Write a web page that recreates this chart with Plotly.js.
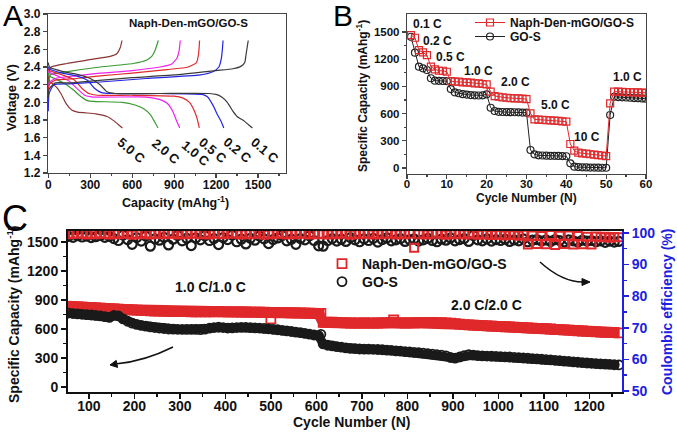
<!DOCTYPE html>
<html><head><meta charset="utf-8">
<script src="https://cdn.plot.ly/plotly-3.0.1.min.js"></script>
<style>html,body{margin:0;padding:0;background:#fff}#chart{width:677px;height:432px}</style>
</head><body><div id="chart"></div>
<script>
// ---------- Panel A : voltage profiles ----------
const rateLabels = ['0.1 C','0.2 C','0.5 C','1.0 C','2.0 C','5.0 C'];
const rateColors = ['#3a3a3a','#2424e6','#e0282b','#f020f0','#3a9a32','#8a3434'];
const dis01Cap = [0,8,100,200,300,370,420,480,800,1150,1200,1240,1280,1320,1350,1400,1430,1460];
const dis01V   = [2.45,2.40,2.35,2.32,2.27,2.20,2.12,2.10,2.10,2.10,2.09,2.06,2.00,1.90,1.84,1.79,1.75,1.71];
const dis02Cap = [0,6,100,200,280,330,380,450,800,1100,1140,1180,1210,1240,1255];
const dis02V   = [2.40,2.38,2.33,2.30,2.25,2.16,2.11,2.10,2.10,2.09,2.06,1.96,1.86,1.77,1.71];
const dis05Cap = [0,6,100,180,240,290,350,600,900,960,1010,1040,1062,1080];
const dis05V   = [2.38,2.36,2.31,2.26,2.16,2.10,2.08,2.08,2.07,2.05,2.00,1.92,1.83,1.71];
const dis10Cap = [0,6,80,150,210,260,320,700,800,850,890,915,940];
const dis10V   = [2.36,2.34,2.29,2.24,2.15,2.08,2.06,2.06,2.03,1.99,1.90,1.80,1.71];
const dis20Cap = [0,6,60,130,180,230,280,320,530,620,680,730,760,785];
const dis20V   = [2.33,2.30,2.26,2.20,2.14,2.07,2.02,2.01,2.00,1.97,1.93,1.86,1.78,1.71];
const dis50Cap = [0,6,30,60,90,130,170,210,340,420,470,500,530];
const dis50V   = [2.28,2.25,2.21,2.17,2.10,1.98,1.91,1.89,1.87,1.84,1.79,1.75,1.71];
const ch01Cap = [0,6,50,150,300,600,900,1200,1320,1380,1405,1415,1430];
const ch01V   = [2.05,2.15,2.22,2.22,2.24,2.28,2.31,2.36,2.38,2.41,2.45,2.55,2.70];
const ch02Cap = [0,6,40,150,370,700,1086,1180,1220,1238,1245,1250];
const ch02V   = [1.90,2.10,2.20,2.21,2.23,2.27,2.31,2.35,2.40,2.50,2.60,2.70];
const ch05Cap = [0,6,50,200,371,600,848,1000,1060,1075,1082];
const ch05V   = [2.00,2.20,2.25,2.27,2.30,2.33,2.37,2.40,2.45,2.55,2.70];
const ch10Cap = [0,6,50,200,371,600,800,880,920,935,944];
const ch10V   = [2.05,2.22,2.27,2.30,2.33,2.36,2.40,2.43,2.50,2.58,2.70];
const ch20Cap = [0,6,14,150,371,607,705,740,764,787];
const ch20V   = [2.10,2.25,2.31,2.35,2.40,2.44,2.48,2.52,2.59,2.70];
const ch50Cap = [0,6,20,133,250,321,443,490,515,527];
const ch50V   = [2.15,2.35,2.40,2.44,2.47,2.49,2.52,2.55,2.62,2.70];

// ---------- Panel B : rate capability (cycles 1..60) ----------
const seriesNames = ['Naph-Den-mGO/GO-S','GO-S'];
const naphRate = [1467,1437,1301,1276,1246,1118,1089,1073,1073,1062,
  960,952,952,945,945,941,934,934,927,923,
  842,794,786,780,775,772,769,769,765,761,
  603,537,534,531,528,525,522,519,515,511,
  265,191,169,162,158,152,148,143,138,132,
  714,842,842,840,838,836,835,834,832,830];
const gosRate = [1448,1272,1118,1100,1081,990,963,962,960,958,
  871,835,825,815,810,805,802,800,802,813,
  665,629,620,618,617,616,615,614,612,610,
  199,151,140,138,136,135,134,133,132,130,
  52,15,10,8,6,5,5,4,3,3,
  585,786,783,780,778,775,772,770,768,765];
const rateStepLabels = ['0.1 C','0.2 C','0.5 C','1.0 C','2.0 C','5.0 C','10 C','1.0 C'];

// ---------- Panel C : long cycling (every 10th cycle, 55..1265) ----------
const naphCap = [835,830,828,825,822,820,818,815,812,810,
  808,805,802,800,798,795,793,790,788,786,
  785,783,782,781,780,780,779,778,778,777,
  777,778,778,779,778,778,777,777,776,776,
  775,775,774,773,772,771,770,770,769,768,
  767,766,765,764,762,760,
  668,672,670,668,665,663,662,660,660,662,
  660,661,662,663,665,668,665,663,662,663,
  664,665,666,666,667,666,665,664,660,655,
  650,645,642,640,637,634,632,630,627,625,
  623,621,619,617,615,612,610,607,605,603,
  600,597,594,591,588,585,582,579,576,573,
  570,568,566,564,562,560];
const gosCap = [765,760,757,752,748,745,740,735,728,720,
  740,735,705,680,660,648,638,630,622,615,
  610,605,600,598,597,596,595,596,595,594,
  598,608,615,618,615,610,612,615,617,616,
  614,612,610,606,602,597,592,586,580,574,
  568,562,555,547,538,530,
  445,432,425,418,412,405,400,397,393,392,
  392,390,388,385,382,378,374,370,366,362,
  358,354,350,345,340,335,330,322,305,298,
  310,325,335,330,325,322,320,318,316,314,
  312,310,307,304,300,297,294,290,287,283,
  280,276,272,268,264,260,256,252,248,245,
  242,239,236,233,230,228];
const naphCE = [99.6,99.8,99.7,99.9,99.5,99.8,99.6,99.9,99.7,99.5,
  99.8,99.6,99.9,99.7,99.4,99.8,99.6,99.9,99.5,99.7,
  99.8,99.6,99.9,99.7,99.5,99.8,99.6,99.9,99.7,99.6,
  99.8,99.5,99.9,99.7,99.6,99.8,99.7,99.9,99.5,99.8,
  99.6,99.7,99.9,99.4,99.8,99.6,99.9,99.7,99.5,99.8,
  99.6,99.9,99.7,99.5,99.8,99.6,
  99.7,99.5,99.8,99.6,99.9,99.7,99.4,99.8,99.6,99.7,
  99.9,99.5,99.8,99.6,99.7,99.9,99.5,99.8,99.6,99.7,
  95.3,99.6,99.8,99.5,99.7,99.9,99.6,99.4,99.8,99.6,
  99.7,99.5,99.9,99.6,99.4,99.7,99.5,99.3,99.6,99.4,
  99.2,99.5,99.3,99.1,99.4,96.3,99.2,96.5,99.0,96.4,
  99.3,96.2,99.1,96.5,99.2,96.3,99.0,96.4,98.8,96.3,
  98.9,98.6,98.8,98.5,98.7,98.6];
const gosCE = [98.9,98.6,99.1,98.7,99.0,98.5,98.8,99.2,98.6,98.9,
  98.2,97.6,99.3,97.9,96.4,98.5,97.4,99.0,95.8,98.1,
  97.7,98.6,96.2,98.0,99.2,97.5,98.3,96.0,98.4,97.8,
  99.1,97.6,98.2,96.3,98.5,97.9,99.3,97.2,98.0,96.5,
  98.3,97.7,99.0,98.1,96.6,97.9,98.4,99.2,97.5,98.0,
  96.4,98.2,97.8,99.1,97.6,95.9,
  95.8,97.6,98.2,97.4,98.0,97.3,98.5,97.8,97.2,98.1,
  97.6,98.3,97.1,97.9,98.4,97.5,97.8,98.2,97.3,97.9,
  98.1,97.4,97.8,98.3,97.6,97.2,98.0,97.7,98.4,97.5,
  97.9,98.2,97.3,99.2,97.8,97.5,98.1,97.4,97.9,97.6,
  98.0,97.3,97.8,97.5,98.1,97.2,97.7,97.9,97.4,97.8,
  97.3,97.9,97.6,97.2,97.8,97.5,97.1,97.7,97.4,97.6,
  97.2,97.5,97.0,97.4,97.1,97.3];
const naphOutCycle = [500,610,770];
const naphOutCap   = [705,762,693];
const gosOutCycle  = [610];
const gosOutCap    = [545];
const phaseLabels = ['1.0 C/1.0 C','2.0 C/2.0 C'];

// ---------- build ----------
const W = 677, H = 432;
const px = v => v / W, py = v => 1 - v / H;
const RED = '#e0282b', BLK = '#1a1a1a', BLUE = '#2020e0';
const FONT = 'Liberation Sans, Arial, sans-serif';

const traces = [];
const disCaps = [dis01Cap,dis02Cap,dis05Cap,dis10Cap,dis20Cap,dis50Cap];
const disVs = [dis01V,dis02V,dis05V,dis10V,dis20V,dis50V];
const chCaps = [ch01Cap,ch02Cap,ch05Cap,ch10Cap,ch20Cap,ch50Cap];
const chVs = [ch01V,ch02V,ch05V,ch10V,ch20V,ch50V];
for (let i = 5; i >= 0; i--) {
  traces.push({x: disCaps[i], y: disVs[i], xaxis:'x', yaxis:'y', mode:'lines', showlegend:false,
    line:{color: rateColors[i], width:1.2, shape:'spline', smoothing:0.5}, hoverinfo:'skip'});
  traces.push({x: chCaps[i], y: chVs[i], xaxis:'x', yaxis:'y', mode:'lines', showlegend:false,
    line:{color: rateColors[i], width:1.2, shape:'spline', smoothing:0.5}, hoverinfo:'skip'});
}
// Panel B
traces.push({y: gosRate, x0:1, dx:1, xaxis:'x2', yaxis:'y2', mode:'lines+markers', name: seriesNames[1],
  legend:'legend3', line:{color:'#222', width:1},
  marker:{symbol:'circle-open', size:7, color:'#222', line:{width:1.2}}});
traces.push({y: naphRate, x0:1, dx:1, xaxis:'x2', yaxis:'y2', mode:'lines+markers', name: seriesNames[0],
  legend:'legend', line:{color:RED, width:1},
  marker:{symbol:'square-open', size:7, color:RED, line:{width:1.2}}});
// Panel C capacity bands
traces.push({y: naphCap, x0:55, dx:10, xaxis:'x3', yaxis:'y3', mode:'lines', showlegend:false,
  line:{color:RED, width:11}});
traces.push({y: naphCap, x0:55, dx:10, xaxis:'x3', yaxis:'y3', mode:'markers', name: seriesNames[0],
  legend:'legend2', marker:{symbol:'square-open', size:9, color:RED, line:{width:1.8}}});
traces.push({x: naphOutCycle, y: naphOutCap, xaxis:'x3', yaxis:'y3', mode:'markers', showlegend:false,
  marker:{symbol:'square-open', size:9, color:RED, line:{width:1.8}}});
traces.push({y: gosCap, x0:55, dx:10, xaxis:'x3', yaxis:'y3', mode:'lines', showlegend:false,
  line:{color:BLK, width:9}});
traces.push({y: gosCap, x0:55, dx:10, xaxis:'x3', yaxis:'y3', mode:'markers', name: seriesNames[1],
  legend:'legend4', marker:{symbol:'circle-open', size:9, color:BLK, line:{width:1.8}}});
traces.push({x: gosOutCycle, y: gosOutCap, xaxis:'x3', yaxis:'y3', mode:'markers', showlegend:false,
  marker:{symbol:'circle-open', size:9, color:BLK, line:{width:1.8}}});
// Panel C coulombic efficiency
traces.push({y: gosCE, x0:55, dx:10, xaxis:'x3', yaxis:'y4', mode:'markers', showlegend:false,
  marker:{symbol:'circle-open', size:9, color:BLK, line:{width:2.2}}});
traces.push({y: naphCE, x0:55, dx:10, xaxis:'x3', yaxis:'y4', mode:'markers', showlegend:false,
  marker:{symbol:'square-open', size:8, color:RED, line:{width:2}}});

function ax(o) {
  return Object.assign({showgrid:false, zeroline:false, showline:true, linecolor:'#444', linewidth:1.2,
    ticks:'outside', ticklen:4, tickwidth:1.2, tickcolor:'#444',
    tickfont:{family:FONT, size:12, color:'#111', weight:'bold'}, fixedrange:true}, o);
}
function leg(x, y, size) {
  return {x: px(x), y: py(y), xanchor:'left', yanchor:'top', bgcolor:'rgba(0,0,0,0)',
    font:{family:FONT, size, color:'#111', weight:'bold'}, tracegroupgap:0, itemwidth:30};
}
const layout = {
  width: W, height: H, margin:{l:0,r:0,t:0,b:0},
  paper_bgcolor:'#fff', plot_bgcolor:'#fff',
  font:{family:FONT, color:'#111', weight:'bold'},
  showlegend:true,
  xaxis: ax({domain:[px(48), px(286)], anchor:'y', range:[-2,1700], tickvals:[0,300,600,900,1200,1500],
    mirror:true, ticklabelstandoff:-4,
    minor:{tickvals:[150,450,750,1050,1350,1650], ticklen:2, ticks:'outside', tickcolor:'#444'}}),
  yaxis: ax({domain:[py(173), py(14)], anchor:'x', range:[1.2,3.0], dtick:0.2, tickformat:'.1f', mirror:true}),
  xaxis2: ax({domain:[px(407), px(646)], anchor:'y2', range:[0,60], dtick:10, mirror:true, ticklabelstandoff:-5,
    tickfont:{family:FONT, size:11.5, color:'#111', weight:'bold'},
    minor:{dtick:5, ticklen:2, ticks:'outside', tickcolor:'#444'}}),
  yaxis2: ax({domain:[py(174), py(14)], anchor:'x2', range:[-66,1699], tickvals:[0,300,600,900,1200,1500], mirror:true,
    tickfont:{family:FONT, size:11.5, color:'#111', weight:'bold'},
    minor:{tickvals:[150,450,750,1050,1350], ticklen:2, ticks:'outside', tickcolor:'#444'}}),
  xaxis3: ax({domain:[px(68), px(622)], anchor:'y3', range:[54,1272], dtick:100, mirror:true, ticklabelstandoff:-5,
    linecolor:'#111', linewidth:2, tickcolor:'#111', ticklen:5, tickwidth:1.5,
    tickfont:{family:FONT, size:14, color:'#111', weight:'bold'},
    minor:{dtick:50, ticklen:3, ticks:'outside', tickcolor:'#111'}}),
  yaxis3: ax({domain:[py(392), py(231)], anchor:'x3', range:[-52,1614], tickvals:[0,300,600,900,1200,1500],
    linecolor:'#111', linewidth:2, tickcolor:'#111', ticklen:5, tickwidth:1.5,
    tickfont:{family:FONT, size:14, color:'#111', weight:'bold'},
    minor:{tickvals:[150,450,750,1050,1350], ticklen:3, ticks:'outside', tickcolor:'#111'}}),
  yaxis4: ax({overlaying:'y3', side:'right', anchor:'x3', range:[49.7,100.6], dtick:10,
    linecolor:BLUE, linewidth:2, tickcolor:BLUE, ticklen:5, tickwidth:1.5,
    tickfont:{family:FONT, size:14, color:BLUE, weight:'bold'},
    minor:{dtick:5, ticklen:3, ticks:'outside', tickcolor:BLUE}}),
  legend: leg(470, 8, 12),
  legend3: leg(470, 22, 12),
  legend2: leg(322, 248, 14),
  legend4: leg(322, 266, 14),
  shapes: [
    {type:'path', xref:'paper', yref:'paper',
     path:`M ${px(173)},${py(347)} Q ${px(145)},${py(361)} ${px(117)},${py(363.8)}`, line:{color:'#111', width:1.5}},
    {type:'path', xref:'paper', yref:'paper', fillcolor:'#111', line:{color:'#111', width:1},
     path:`M ${px(110)},${py(365)} L ${px(117.6)},${py(367.4)} L ${px(116.2)},${py(360.4)} Z`},
    {type:'path', xref:'paper', yref:'paper',
     path:`M ${px(540)},${py(262)} Q ${px(562)},${py(282)} ${px(583)},${py(282)}`, line:{color:'#111', width:1.5}},
    {type:'path', xref:'paper', yref:'paper', fillcolor:'#111', line:{color:'#111', width:1},
     path:`M ${px(590)},${py(282)} L ${px(582)},${py(278.5)} L ${px(582)},${py(285.5)} Z`}
  ],
  annotations: []
};
const ann = layout.annotations;
function T(text, x, y, size, extra) {
  ann.push(Object.assign({text, x: px(x), y: py(y), xref:'paper', yref:'paper', showarrow:false,
    xanchor:'center', yanchor:'middle', font:{family:FONT, size, color:'#111', weight:'bold'}}, extra || {}));
}
// panel letters
T('A', 13, 16, 30, {font:{family:FONT, size:30, color:'#000', weight:'normal'}});
T('B', 343, 16, 30, {font:{family:FONT, size:30, color:'#000', weight:'normal'}});
T('C', 15, 218, 36, {font:{family:FONT, size:36, color:'#000', weight:'normal'}});
// Panel A texts
T('Voltage (V)', 11, 98, 13, {textangle:-90});
T('Capacity (mAhg<sup>-1</sup>)', 175, 202, 12.5);
T('Naph-Den-mGO/GO-S', 188, 23, 11.5);
const rateLabelPos = [[265,150.7],[238,150],[213,150.7],[195.7,153.3],[165.7,151.7],[131.7,150]];
rateLabels.forEach((t, i) => T(t, rateLabelPos[i][0], rateLabelPos[i][1], 13, {textangle:40}));
// Panel B texts
T('Specific Capacity (mAhg<sup>-1</sup>)', 362, 96, 12, {textangle:-90});
T('Cycle Number (N)', 526, 198, 12);
const stepPos = [[427,24],[437,41],[450,57],[478,71],[515,82],[555,105],[587,137],[627,77]];
rateStepLabels.forEach((t, i) => T(t, stepPos[i][0], stepPos[i][1], 12));
// Panel C texts
T('Specific Capacity (mAhg<sup>-1</sup>)', 13, 314, 14, {textangle:-90});
T('Coulombic efficiency (%)', 667, 312, 14, {textangle:-90, font:{family:FONT, size:14, color:BLUE, weight:'bold'}});
T('Cycle Number (N)', 351, 422, 14);
T(phaseLabels[0], 210, 287, 14);
T(phaseLabels[1], 486, 305, 14);

Plotly.newPlot('chart', traces, layout, {displayModeBar:false, staticPlot:true});
</script>
</body></html>
